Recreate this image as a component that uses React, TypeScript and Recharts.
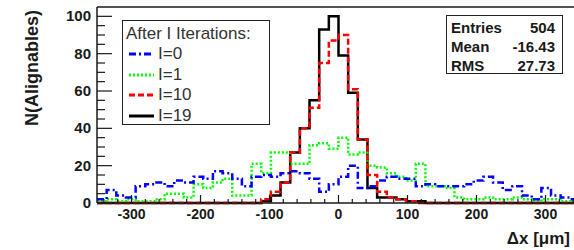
import React from 'react';
import { LineChart, Line, XAxis, YAxis, ReferenceLine, Legend } from 'recharts';

// Bin edges of the histograms (Δx in μm)
const binEdges = [
  -350, -336, -322, -308, -294, -280, -266, -252, -238, -224,
  -210, -196, -182, -168, -154, -140, -126, -112, -98, -84,
  -70, -56, -42, -28, -14, 0, 14, 28, 42, 56,
  70, 84, 98, 112, 126, 140, 154, 168, 182, 196,
  210, 224, 238, 252, 266, 280, 294, 308, 322, 336, 350,
];

// Bin contents
const iter0 = [
  2, 7, 4, 3, 9, 10, 11, 9, 12, 11,
  14, 13, 17, 16, 13, 9, 14, 15, 14, 16,
  17, 16, 13, 6, 10, 14, 20, 8, 9, 12,
  14, 13, 13, 9, 10, 9, 9, 9, 10, 12,
  14, 11, 7, 9, 4, 2, 8, 4, 3, 2,
];
const iter1 = [
  1, 2, 1, 2, 1, 1, 2, 5, 5, 3,
  10, 8, 11, 13, 4, 4, 21, 16, 27, 27,
  21, 21, 31, 32, 29, 35, 26, 27, 20, 19,
  16, 14, 12, 21, 9, 9, 8, 3, 2, 2,
  3, 2, 2, 3, 2, 1, 2, 2, 1, 2,
];
const iter10 = [
  0, 0, 0, 0, 0, 0, 0, 0, 0, 0,
  0, 0, 0, 0, 0, 0, 0, 2, 6, 11,
  27, 40, 51, 75, 87, 90, 61, 34, 15, 6,
  3, 2, 1, 0, 0, 0, 0, 0, 0, 0,
  0, 0, 0, 0, 0, 0, 0, 0, 0, 0,
];
const iter19 = [
  0, 0, 0, 0, 0, 0, 0, 0, 0, 0,
  0, 0, 0, 0, 0, 0, 0, 1, 4, 11,
  27, 40, 55, 93, 100, 79, 59, 34, 8, 3,
  3, 2, 1, 1, 0, 0, 0, 0, 0, 0,
  0, 0, 0, 0, 0, 0, 0, 0, 0, 0,
];

const xTicks = [
  -340, -320, -300, -280, -260, -240, -220, -200, -180, -160, -140, -120,
  -100, -80, -60, -40, -20, 0, 20, 40, 60, 80, 100, 120, 140, 160, 180,
  200, 220, 240, 260, 280, 300, 320, 340,
];
const yTicks = [0, 5, 10, 15, 20, 25, 30, 35, 40, 45, 50, 55, 60, 65, 70, 75, 80, 85, 90, 95, 100];

const legendTitle = 'After I Iterations:';
const statsRows = [
  ['Entries', '504'],
  ['Mean', '-16.43'],
  ['RMS', '27.73'],
];

const series = [
  { key: 'i19', name: 'I=19', color: '#000000', dash: undefined as string | undefined },
  { key: 'i1', name: 'I=1', color: '#00ff00', dash: '2 2' },
  { key: 'i0', name: 'I=0', color: '#0000ff', dash: '7 3 2 3' },
  { key: 'i10', name: 'I=10', color: '#ff0000', dash: '6 3' },
];
const legendOrder = ['i0', 'i1', 'i10', 'i19'];

const data = binEdges.map((edge, i) => {
  const j = Math.min(i, iter0.length - 1);
  return { edge, i0: iter0[j], i1: iter1[j], i10: iter10[j], i19: iter19[j] };
});

const FONT = '"Liberation Sans", Arial, Helvetica, sans-serif';
const INK = '#1a1a1a';

const XTick = (props: any) => {
  const { x, y, payload } = props;
  const v = payload.value;
  const major = v % 100 === 0;
  return (
    <g>
      <line x1={x} x2={x} y1={y} y2={y - (major ? 8 : 4)} stroke={INK} strokeWidth={1.2} />
      {major && (
        <text x={x} y={y + 16} textAnchor="middle" fontFamily={FONT} fontWeight="bold" fontSize={14} fill={INK}>
          {v}
        </text>
      )}
    </g>
  );
};

const YTick = (props: any) => {
  const { x, y, payload } = props;
  const v = payload.value;
  const major = v % 20 === 0;
  return (
    <g>
      <line x1={x} x2={x + (major ? 15 : 8)} y1={y} y2={y} stroke={INK} strokeWidth={1.2} />
      {major && (
        <text x={x - 6} y={y + 5} textAnchor="end" fontFamily={FONT} fontWeight="bold" fontSize={15} fill={INK}>
          {v}
        </text>
      )}
    </g>
  );
};

const LegendBox = () => {
  const rowTop = [33, 53.5, 74, 94.5];
  return (
    <div
      style={{
        position: 'relative',
        width: 148,
        height: 105,
        boxSizing: 'border-box',
        border: '1.5px solid #222',
        background: '#fff',
        fontFamily: FONT,
        fontSize: 17,
        color: '#333',
      }}
    >
      <div style={{ position: 'absolute', left: 3, top: 12.5 - 10, lineHeight: '20px', whiteSpace: 'nowrap' }}>
        {legendTitle}
      </div>
      {legendOrder.map((k, i) => {
        const s = series.find((q) => q.key === k)!;
        return (
          <div key={k} style={{ position: 'absolute', left: 0, top: rowTop[i] - 10, height: 20, width: '100%' }}>
            <svg width={34} height={20} style={{ position: 'absolute', left: 4, top: 0 }}>
              <line x1={2} x2={27} y1={10} y2={10} stroke={s.color} strokeWidth={3} strokeDasharray={s.dash} />
            </svg>
            <span style={{ position: 'absolute', left: 35, top: 0, lineHeight: '20px' }}>{s.name}</span>
          </div>
        );
      })}
    </div>
  );
};

export default function App() {
  return (
    <div style={{ position: 'absolute', left: 0, top: 0, width: 574, height: 250, overflow: 'hidden', background: '#fff' }}>
      <LineChart width={580} height={250} data={data} margin={{ top: 7, right: 0, bottom: 0, left: 0 }}>
        <XAxis
          type="number"
          dataKey="edge"
          domain={[-350, 350]}
          ticks={xTicks}
          interval={0}
          tickSize={0}
          tickMargin={0}
          tickLine={false}
          tick={<XTick />}
          axisLine={{ stroke: INK, strokeWidth: 1.5 }}
          height={47}
          label={() => (
            <text x={570} y={244} textAnchor="end" fontFamily={FONT} fontWeight="bold" fontSize={17} fill={INK}>
              Δx [μm]
            </text>
          )}
        />
        <YAxis
          type="number"
          domain={[0, 105]}
          ticks={yTicks}
          interval={0}
          tickSize={0}
          tickMargin={0}
          tickLine={false}
          tick={<YTick />}
          axisLine={{ stroke: INK, strokeWidth: 1.5 }}
          width={97}
          label={() => (
            <text
              x={38}
              y={68}
              transform="rotate(-90 38 68)"
              textAnchor="middle"
              fontFamily={FONT}
              fontWeight="bold"
              fontSize={18}
              fill={INK}
            >
              N(Alignables)
            </text>
          )}
        />
        <ReferenceLine y={105} stroke={INK} strokeWidth={1.5} ifOverflow="visible" />
        {series.map((s) => (
          <Line
            key={s.key}
            dataKey={s.key}
            name={s.name}
            type="stepAfter"
            stroke={s.color}
            strokeWidth={2.5}
            strokeDasharray={s.dash}
            dot={false}
            activeDot={false}
            isAnimationActive={false}
          />
        ))}
        <Legend
          layout="vertical"
          align="center"
          verticalAlign="middle"
          wrapperStyle={{ left: 122, top: 20, width: 148, height: 105 }}
          content={() => <LegendBox />}
        />
      </LineChart>
      <div
        style={{
          position: 'absolute',
          left: 446,
          top: 15,
          width: 117,
          height: 59,
          boxSizing: 'border-box',
          border: '1.5px solid #222',
          background: '#fff',
          fontFamily: FONT,
          fontWeight: 'bold',
          fontSize: 15,
          color: INK,
        }}
      >
        {statsRows.map(([label, value], i) => (
          <div key={label} style={{ position: 'absolute', left: 4, right: 7, top: 2.5 + i * 19, height: 18, lineHeight: '18px' }}>
            <span style={{ position: 'absolute', left: 0 }}>{label}</span>
            <span style={{ position: 'absolute', right: 0 }}>{value}</span>
          </div>
        ))}
      </div>
    </div>
  );
}
